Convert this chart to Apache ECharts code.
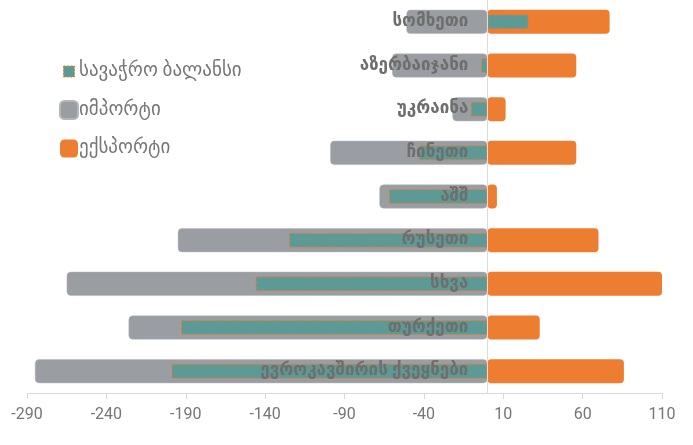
<!DOCTYPE html>
<html>
<head>
<meta charset="utf-8">
<script src="https://cdn.jsdelivr.net/npm/echarts@6/dist/echarts.min.js"></script>
<style>
  html, body { margin: 0; padding: 0; background: #fff; }
  #chart { width: 693px; height: 445px; }
</style>
</head>
<body>
<div id="chart"></div>
<script>
// Trade partners, bottom to top
const countries = ['ევროკავშირის ქვეყნები', 'თურქეთი', 'სხვა', 'რუსეთი', 'აშშ', 'ჩინეთი', 'უკრაინა', 'აზერბაიჯანი', 'სომხეთი'];
const imports = [-285, -226, -265, -195, -68, -99, -22, -60, -51];
const exports = [86, 33, 119, 70, 6, 56, 11.5, 56, 77];
const balance = [-199, -193, -146, -125, -62, -43, -10.5, -4, 26];

const seriesNames = ['სავაჭრო ბალანსი', 'იმპორტი', 'ექსპორტი'];
const axisMin = -290, axisMax = 110, axisStep = 50;

const FONT = 'Roboto, "DejaVu Sans", sans-serif';
const GRAY = '#9a9ea2', ORANGE = '#ed7d31', TEAL = '#5d9a96';

const W = 693;
const GRID = { left: 27, right: 31, top: 0, bottom: 52 };
// distance from the grid's left edge to the zero line, so the category axis sits on it
const plotWidth = W - GRID.left - GRID.right;
const zeroOffset = (0 - axisMin) / (axisMax - axisMin) * plotWidth;

// small dashed-outline swatch for the balance entry in the legend
const balanceIcon = 'image://data:image/svg+xml;utf8,' + encodeURIComponent(
  '<svg xmlns="http://www.w3.org/2000/svg" width="18" height="18">' +
  '<rect x="3.5" y="3.5" width="11" height="11" fill="' + TEAL + '" stroke="' + ORANGE +
  '" stroke-width="1" stroke-dasharray="2,1.5"/></svg>');

const chart = echarts.init(document.getElementById('chart'));
chart.setOption({
  animation: false,
  textStyle: { fontFamily: FONT },
  grid: Object.assign({ containLabel: false, outerBoundsMode: 'none' }, GRID),
  legend: {
    orient: 'vertical',
    left: 59,
    top: 62,
    padding: 0,
    itemWidth: 18,
    itemHeight: 18,
    itemGap: 19,
    textStyle: { color: '#767676', fontSize: 19, fontFamily: FONT, padding: [0, 0, 0, -4] },
    data: [
      { name: seriesNames[0], icon: balanceIcon },
      { name: seriesNames[1], icon: 'roundRect' },
      { name: seriesNames[2], icon: 'roundRect' }
    ]
  },
  xAxis: {
    type: 'value',
    min: axisMin,
    max: axisMax,
    interval: axisStep,
    splitLine: { show: false },
    axisLine: { show: true, lineStyle: { color: '#d9d9d9', width: 1 } },
    axisTick: { show: true, length: 6, lineStyle: { color: '#d9d9d9' } },
    axisLabel: { color: '#767676', fontSize: 16, margin: 14, fontFamily: FONT }
  },
  yAxis: [
    {
      type: 'category',
      data: countries,
      position: 'left',
      offset: -zeroOffset,
      z: 10,
      axisLine: { show: true, onZero: false, lineStyle: { color: '#dcdcdc', width: 1 } },
      axisTick: { show: false },
      axisLabel: { color: '#6e6e6e', fontWeight: 'bold', fontSize: 17, margin: 19, fontFamily: FONT }
    },
    {
      type: 'category',
      data: countries,
      show: false
    }
  ],
  series: [
    {
      name: seriesNames[2],
      type: 'bar',
      yAxisIndex: 0,
      data: exports,
      barWidth: 24,
      barGap: '-100%',
      z: 2,
      itemStyle: { color: ORANGE, borderRadius: 4 }
    },
    {
      name: seriesNames[1],
      type: 'bar',
      yAxisIndex: 0,
      data: imports,
      barWidth: 24,
      barGap: '-100%',
      z: 3,
      itemStyle: { color: GRAY, borderRadius: 4, borderColor: '#b4b7ba', borderWidth: 0.5 }
    },
    {
      name: seriesNames[0],
      type: 'bar',
      yAxisIndex: 1,
      data: balance,
      barWidth: 15,
      z: 4,
      itemStyle: { color: TEAL, borderColor: ORANGE, borderWidth: 1, borderType: [3, 2] }
    }
  ]
});
</script>
</body>
</html>
